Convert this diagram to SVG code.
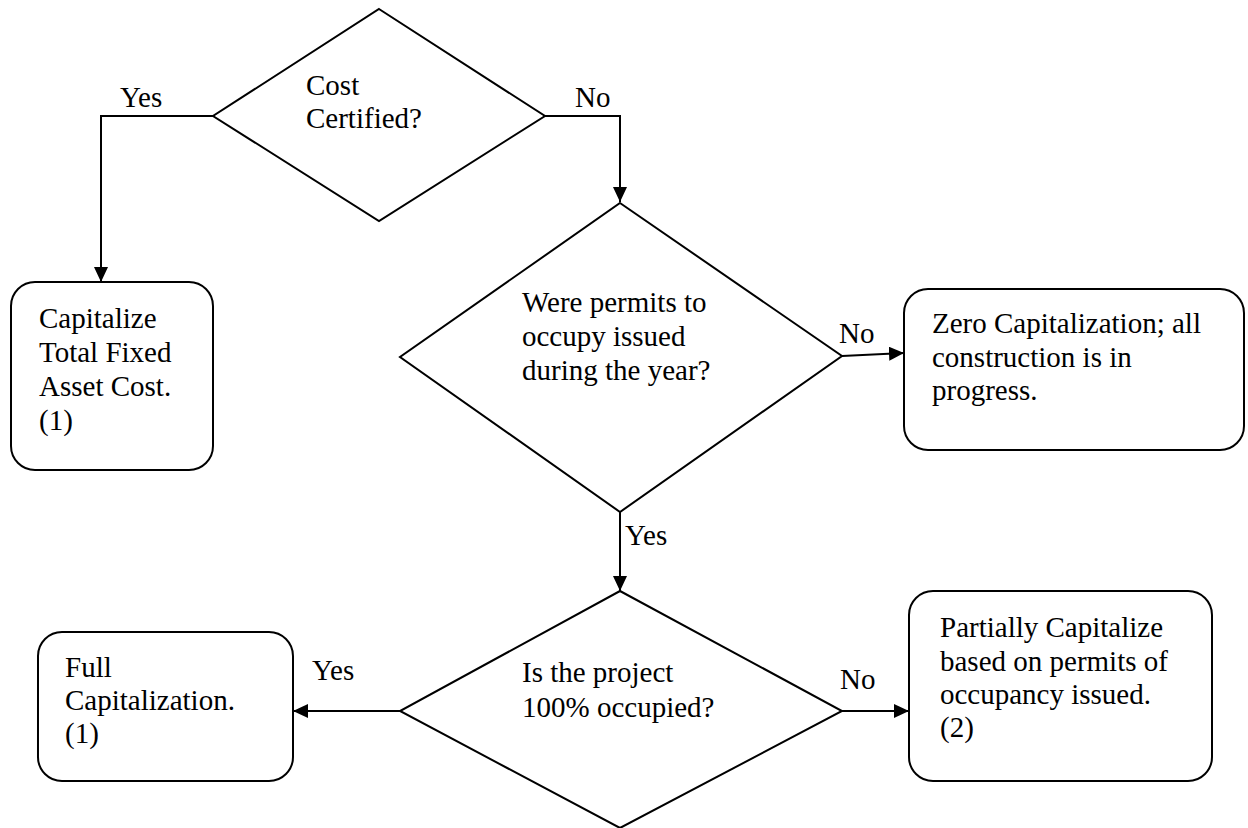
<svg xmlns="http://www.w3.org/2000/svg" width="1248" height="828" viewBox="0 0 1248 828">
<style>
.s{fill:#fff;stroke:#000;stroke-width:2}
.c{fill:none;stroke:#000;stroke-width:2}
text{font-family:"Liberation Serif","Times New Roman",serif;font-size:29px;fill:#000}
</style>
<defs>
<marker id="ah" viewBox="0 0 15 14" refX="15" refY="7" markerWidth="15" markerHeight="14" markerUnits="userSpaceOnUse" orient="auto">
<path d="M0,0 L15,7 L0,14 Z" fill="#000"/>
</marker>
</defs>
<rect width="1248" height="828" fill="#fff"/>
<g id="connectors">
<polyline class="c" points="213,116 101,116 101,282" marker-end="url(#ah)"/>
<polyline class="c" points="545,116 620,116 620,202" marker-end="url(#ah)"/>
<line class="c" x1="842" y1="356" x2="904" y2="353" marker-end="url(#ah)"/>
<line class="c" x1="620" y1="512" x2="620" y2="591" marker-end="url(#ah)"/>
<line class="c" x1="400" y1="711" x2="293" y2="711" marker-end="url(#ah)"/>
<line class="c" x1="842" y1="711" x2="909" y2="711" marker-end="url(#ah)"/>
<text x="120" y="107">Yes</text>
<text x="575" y="107">No</text>
<text x="839" y="343">No</text>
<text x="625" y="545">Yes</text>
<text x="312" y="680">Yes</text>
<text x="840" y="689">No</text>
</g>
<g id="d1">
<polygon class="s" points="379,9 545,116 379,221 213,116"/>
<text x="306" y="95">Cost</text>
<text x="306" y="128">Certified?</text>
</g>
<g id="d2">
<polygon class="s" points="620,203 842,356 620,512 400,357"/>
<text x="522" y="312">Were permits to</text>
<text x="522" y="346">occupy issued</text>
<text x="522" y="380">during the year?</text>
</g>
<g id="d3">
<polygon class="s" points="620,591 842,711 620,828 400,711"/>
<text x="522" y="682">Is the project</text>
<text x="522" y="717">100% occupied?</text>
</g>
<g id="b1">
<rect class="s" x="11" y="282" width="202" height="188" rx="24"/>
<text x="39" y="328">Capitalize</text>
<text x="39" y="362">Total Fixed</text>
<text x="39" y="396">Asset Cost.</text>
<text x="39" y="430">(1)</text>
</g>
<g id="b2">
<rect class="s" x="904" y="289" width="340" height="161" rx="24"/>
<text x="932" y="333">Zero Capitalization; all</text>
<text x="932" y="367">construction is in</text>
<text x="932" y="400">progress.</text>
</g>
<g id="b3">
<rect class="s" x="38" y="632" width="255" height="149" rx="24"/>
<text x="65" y="677">Full</text>
<text x="65" y="710">Capitalization.</text>
<text x="65" y="743">(1)</text>
</g>
<g id="b4">
<rect class="s" x="909" y="591" width="303" height="190" rx="24"/>
<text x="940" y="637">Partially Capitalize</text>
<text x="940" y="671">based on permits of</text>
<text x="940" y="704">occupancy issued.</text>
<text x="940" y="737">(2)</text>
</g>
</svg>
